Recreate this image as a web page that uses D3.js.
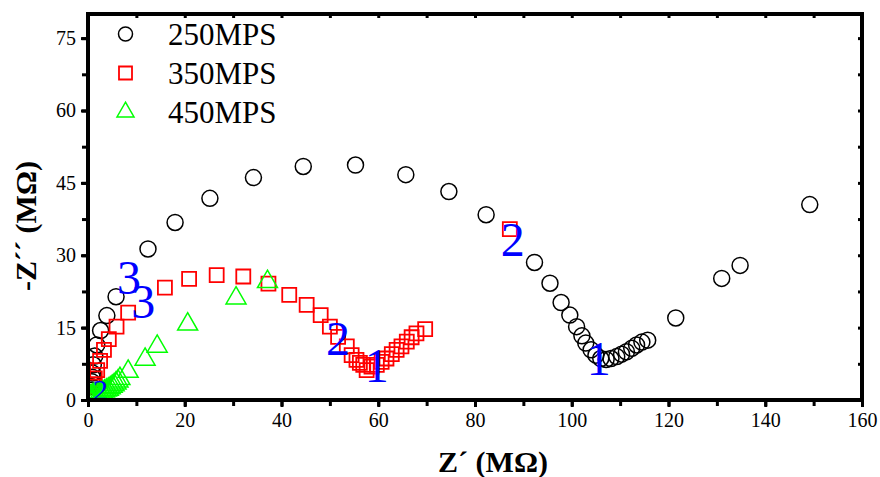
<!DOCTYPE html>
<html>
<head>
<meta charset="utf-8">
<script src="https://cdn.jsdelivr.net/npm/d3@7"></script>
<style>
  html, body { margin: 0; padding: 0; background: #fff; }
  svg { display: block; }
  text { font-family: "Liberation Serif", "Times New Roman", serif; }
</style>
</head>
<body>
<svg id="chart" width="880" height="477"></svg>
<script>
// Nyquist plot: Z' vs -Z'' (MΩ) for three sweep rates
const seriesNames = ["250MPS", "350MPS", "450MPS"];

const mps250 = [
  [0.4,0.6],[0.5,1.2],[0.6,2.0],[0.7,2.8],[0.8,3.8],[0.9,4.7],[0.9,5.6],[1.1,7.3],
  [1.4,9.1],[1.8,11.4],[2.6,14.4],[3.9,17.5],[5.8,21.4],[12.4,31.3],[18.0,36.8],
  [25.2,41.8],[34.2,46.1],[44.5,48.4],[55.3,48.7],[65.7,46.7],[74.6,43.2],[82.3,38.4],
  [92.3,28.5],[95.5,24.2],[97.8,20.2],[99.6,17.6],[101.0,15.2],[102.1,13.3],[102.9,11.8],
  [104.0,10.4],[105.0,9.3],[106.0,8.6],[107.1,8.4],[108.1,8.6],[109.3,9.0],[110.3,9.5],
  [111.3,10.0],[112.4,10.7],[113.4,11.4],[114.5,12.0],[115.7,12.4],[121.5,17.0],
  [131.0,25.2],[134.8,27.9],[149.2,40.5]
];

const mps350 = [
  [0.6,0.6],[0.9,1.4],[1.1,2.8],[1.4,4.5],[1.9,6.2],[2.5,8.1],[3.3,10.4],[4.3,12.6],
  [5.9,15.2],[8.3,18.1],[15.9,23.3],[20.9,25.1],[26.6,25.9],[32.1,25.6],[37.3,24.1],
  [41.6,21.8],[45.2,19.7],[48.1,17.6],[50.0,15.2],[51.7,13.1],[53.5,11.1],[54.5,9.3],
  [55.5,8.3],[56.2,7.7],[56.9,7.3],[57.6,6.2],[58.6,6.9],[59.7,7.3],[60.7,7.9],
  [61.7,8.6],[62.8,9.5],[63.8,10.4],[64.8,11.1],[65.9,12.1],[66.9,13.0],[67.9,13.8],
  [69.7,14.7],[87.2,35.4]
];

const mps450 = [
  [0.2,0.4],[0.4,0.6],[0.6,0.8],[0.9,1.0],[1.2,1.1],[1.6,1.2],[2.0,1.3],[2.5,1.4],
  [3.0,1.6],[3.4,1.8],[3.8,2.0],[4.2,2.2],[4.6,2.5],[5.0,2.8],[5.4,3.1],[5.8,3.5],
  [6.2,3.9],[6.6,4.4],[8.3,5.9],[11.8,8.4],[14.3,11.1],[20.6,15.7],[30.6,21.1],[37.1,24.5]
];

// Region markers written on the plot: [text, x, y, font size]
const regionLabels = [
  ["3", 8.5, 22.0, 48],
  ["3", 11.4, 17.0, 48],
  ["2", 51.7, 9.3, 48],
  ["1", 59.7, 3.7, 48],
  ["2", 87.8, 29.8, 48],
  ["1", 105.6, 5.2, 48],
  ["2", 2.6, 0.1, 30]
];

const xTicks = [0, 20, 40, 60, 80, 100, 120, 140, 160];
const yTicks = [0, 15, 30, 45, 60, 75];

const svg = d3.select("#chart");
const L = 88, R = 862, T = 14, B = 400;

const x = d3.scaleLinear().domain([0, 160]).range([L, R]);
const y = d3.scaleLinear().domain([0, 80]).range([B, T]);

const xMinor = d3.range(0, 161, 10);
const yMinor = d3.range(0, 80.01, 7.5);

// Clip for plotted content
svg.append("clipPath").attr("id", "plotclip")
  .append("rect").attr("x", L).attr("y", T).attr("width", R - L).attr("height", B - T);

const plot = svg.append("g").attr("clip-path", "url(#plotclip)");

const labelColor = "#0000ff";

const sym = (type, size) => d3.symbol().type(type).size(size)();

plot.append("g").selectAll("path").data(mps250).join("path")
  .attr("d", sym(d3.symbolCircle, Math.PI * 64))
  .attr("transform", d => `translate(${x(d[0])},${y(d[1])})`)
  .attr("fill", "none").attr("stroke", "#000").attr("stroke-width", 1.5);

plot.append("g").selectAll("path").data(mps350).join("path")
  .attr("d", sym(d3.symbolSquare, 196))
  .attr("transform", d => `translate(${x(d[0])},${y(d[1])})`)
  .attr("fill", "none").attr("stroke", "#ff0000").attr("stroke-width", 1.8);

plot.append("g").selectAll("path").data(mps450).join("path")
  .attr("d", sym(d3.symbolTriangle, 173))
  .attr("transform", d => `translate(${x(d[0])},${y(d[1])})`)
  .attr("fill", "none").attr("stroke", "#00ff00").attr("stroke-width", 1.5);

plot.append("g").selectAll("text").data(regionLabels).join("text")
  .attr("x", d => x(d[1])).attr("y", d => y(d[2]))
  .attr("text-anchor", "middle")
  .attr("font-size", d => d[3])
  .attr("fill", labelColor)
  .text(d => d[0]);

// Axes
const tickW = 3;
const gx = svg.append("g").attr("transform", `translate(0,${B})`)
  .call(d3.axisBottom(x).tickValues(xTicks).tickSize(7).tickPadding(6).tickFormat(d3.format("d")));
const gy = svg.append("g").attr("transform", `translate(${L},0)`)
  .call(d3.axisLeft(y).tickValues(yTicks).tickSize(7).tickPadding(5).tickFormat(d3.format("d")));
const gxm = svg.append("g").attr("transform", `translate(0,${B})`)
  .call(d3.axisBottom(x).tickValues(xMinor).tickSize(6).tickFormat(""));
const gym = svg.append("g").attr("transform", `translate(${L},0)`)
  .call(d3.axisLeft(y).tickValues(yMinor).tickSize(6).tickFormat(""));
// mirrored short ticks on top and right edges
const gxt = svg.append("g").attr("transform", `translate(0,${T})`)
  .call(d3.axisBottom(x).tickValues(xMinor).tickSize(4).tickFormat(""));
const gyr = svg.append("g").attr("transform", `translate(${R},0)`)
  .call(d3.axisLeft(y).tickValues(yMinor).tickSize(4).tickFormat(""));

[gx, gy, gxm, gym, gxt, gyr].forEach(g => {
  g.select(".domain").remove();
  g.selectAll(".tick line").attr("stroke", "#000").attr("stroke-width", tickW);
  g.selectAll(".tick text").attr("font-size", 20).attr("fill", "#000")
    .attr("font-family", "'Liberation Serif', 'Times New Roman', serif");
});

// Frame
svg.append("rect")
  .attr("x", L).attr("y", T).attr("width", R - L).attr("height", B - T)
  .attr("fill", "none").attr("stroke", "#000").attr("stroke-width", 4);

// Axis titles
svg.append("text")
  .attr("x", 493).attr("y", 472)
  .attr("text-anchor", "middle")
  .attr("font-size", 30).attr("font-weight", "bold")
  .text("Z\u00B4 (M\u03A9)");

svg.append("text")
  .attr("transform", "translate(36,226) rotate(-90)")
  .attr("text-anchor", "middle")
  .attr("font-size", 30).attr("font-weight", "bold")
  .text("-Z\u00B4\u00B4 (M\u03A9)");

// Legend
const legend = svg.append("g");
const legendItems = [
  { name: seriesNames[0], d: sym(d3.symbolCircle, Math.PI * 49), color: "#000", w: 1.5 },
  { name: seriesNames[1], d: sym(d3.symbolSquare, 169), color: "#ff0000", w: 1.8 },
  { name: seriesNames[2], d: sym(d3.symbolTriangle, 125), color: "#00ff00", w: 1.5 }
];
const legendY = [34, 73, 112];
legendItems.forEach((it, i) => {
  legend.append("path").attr("d", it.d)
    .attr("transform", `translate(125.5,${legendY[i]})`)
    .attr("fill", "none").attr("stroke", it.color).attr("stroke-width", it.w);
  legend.append("text")
    .attr("x", 168).attr("y", legendY[i] + 10.5)
    .attr("font-size", 31).attr("fill", "#000")
    .text(it.name);
});
</script>
</body>
</html>
